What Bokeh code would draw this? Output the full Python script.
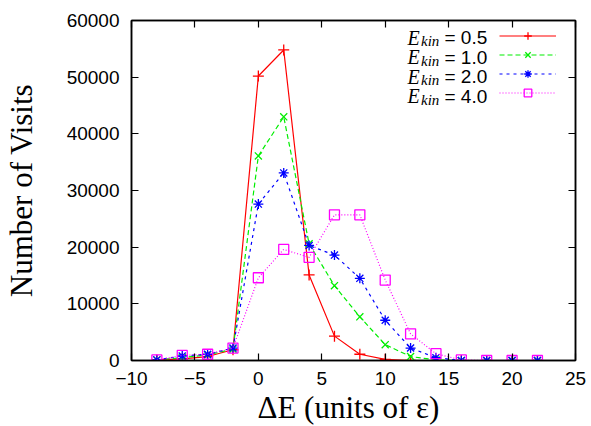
from bokeh.plotting import figure
from bokeh.models import Range1d, LinearAxis, FixedTicker, Legend, LegendItem, Label, Title
from bokeh.embed import file_html
from bokeh.resources import INLINE

# ---- data ----
delta_e = [-8, -6, -4, -2, 0, 2, 4, 6, 8, 10, 12, 14, 16, 18, 20, 22]
visits_05 = [100, 300, 700, 1900, 50200, 54800, 15100, 4300, 1100, 200, 0, 0, 0, 0, 0, 0]
visits_10 = [100, 500, 1000, 2000, 36100, 43000, 20600, 13200, 7700, 2800, 700, 100, 0, 0, 0, 0]
visits_20 = [100, 800, 1100, 2200, 27600, 33100, 20300, 18600, 14500, 7100, 2200, 500, 0, 0, 0, 0]
visits_40 = [100, 900, 1100, 2200, 14600, 19600, 18200, 25700, 25700, 14200, 4700, 1200, 100, 0, 0, 0]
ekin_labels = ["0.5", "1.0", "2.0", "4.0"]
x_ticks = [-10, -5, 0, 5, 10, 15, 20, 25]
y_ticks = [0, 10000, 20000, 30000, 40000, 50000, 60000]

SANS = "Liberation Sans"
SERIF = "Liberation Serif"

p = figure(width=591, height=426, output_backend="svg", toolbar_location=None,
           x_range=Range1d(-10, 25), y_range=Range1d(0, 60000),
           min_border_left=127, min_border_right=16, min_border_top=20, min_border_bottom=66,
           x_axis_location=None, y_axis_location=None)
p.grid.visible = False
p.outline_line_color = "black"
p.outline_line_width = 1.5
p.background_fill_color = "white"
p.border_fill_color = "white"


def make_axis(show_labels, ticks):
    ax = LinearAxis(ticker=FixedTicker(ticks=ticks))
    ax.axis_line_color = "black"
    ax.axis_line_width = 1.5
    ax.major_tick_in = 7
    ax.major_tick_out = 0
    ax.major_tick_line_width = 1.2
    ax.minor_tick_in = 0
    ax.minor_tick_out = 0
    ax.major_label_text_font = SANS
    ax.major_label_text_color = "black"
    ax.major_label_text_font_size = "19px"
    if not show_labels:
        ax.major_label_overrides = {t: "" for t in ticks}
        ax.major_label_standoff = 0
    return ax


xb = make_axis(True, x_ticks)
xb.major_label_standoff = 11
yl = make_axis(True, y_ticks)
yl.major_label_standoff = 12
yl.axis_label = "Number of Visits"
yl.axis_label_text_font = SERIF
yl.axis_label_text_font_size = "31px"
yl.axis_label_text_font_style = "normal"
yl.axis_label_text_color = "black"
yl.axis_label_standoff = 25
xt = make_axis(False, x_ticks)
yr = make_axis(False, y_ticks)
p.add_layout(xb, "below")
p.add_layout(yl, "left")
p.add_layout(xt, "above")
p.add_layout(yr, "right")

xtitle = Title(text="\u0394E (units of \u03b5)", align="left", offset=126, standoff=0,
               text_font=SERIF, text_font_size="31px", text_font_style="normal",
               text_color="black")
p.add_layout(xtitle, "below")

series = [
    (visits_05, "#ff0000", "solid", "cross", 11),
    (visits_10, "#00ee00", "5 3", "x", 10),
    (visits_20, "#0000ff", "3 4", "asterisk", 10),
    (visits_40, "#ff00ff", "1 2", "square", 10),
]
items = []
for vals, col, dash, marker, size in series:
    ln = p.line(delta_e, vals, line_color=col, line_width=1.2, line_dash=dash)
    sc = p.scatter(delta_e, vals, marker=marker, size=size, line_color=col,
                   fill_color=None, line_width=1.3)
    items.append(LegendItem(label="", renderers=[ln, sc]))

legend = Legend(items=items, location=(368, 258), glyph_width=57, glyph_height=19,
                label_width=0, label_standoff=0, padding=0, margin=0, spacing=0,
                border_line_color=None, background_fill_alpha=0)
p.add_layout(legend)

# legend texts (frame-relative screen coordinates)
for i, lab in enumerate(ekin_labels):
    yb = 323 - i * 19.5
    p.add_layout(Label(x=276, y=yb, x_units="screen", y_units="screen", text="E",
                       text_font=SERIF, text_font_style="italic", text_font_size="20px",
                       text_baseline="alphabetic", text_color="black"))
    p.add_layout(Label(x=289.5, y=yb - 3.5, x_units="screen", y_units="screen", text="kin",
                       text_font=SERIF, text_font_style="italic", text_font_size="15px",
                       text_baseline="alphabetic", text_color="black"))
    p.add_layout(Label(x=313, y=yb, x_units="screen", y_units="screen", text="= " + lab,
                       text_font=SANS, text_font_size="19px",
                       text_baseline="alphabetic", text_color="black"))

open("out.html", "w").write(file_html(p, INLINE))
